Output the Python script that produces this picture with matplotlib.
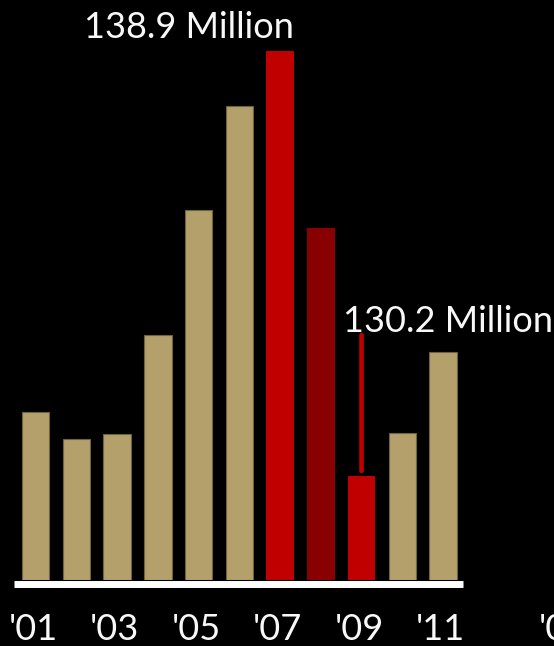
import matplotlib
matplotlib.use("Agg")
import matplotlib.pyplot as plt
from matplotlib.transforms import blended_transform_factory

# ---- data ----
years = [2001, 2002, 2003, 2004, 2005, 2006, 2007, 2008, 2009, 2010, 2011]
values = [131.50, 130.95, 131.05, 133.09, 135.65, 137.78, 138.9, 135.28, 130.2, 131.08, 132.74]
bar_colors = ["#B3A06A", "#B3A06A", "#B3A06A", "#B3A06A", "#B3A06A", "#B3A06A",
              "#C00000", "#880000", "#C00000", "#B3A06A", "#B3A06A"]
tick_years = [2001, 2003, 2005, 2007, 2009, 2011]
tick_labels = ["'01", "'03", "'05", "'07", "'09", "'11"]
extra_label = "'0"
peak_year, peak_label = 2007, "138.9 Million"
trough_year, trough_label = 2009, "130.2 Million"

FONT = "Lato"
TXT = "#F8F8F8"

fig = plt.figure(figsize=(5.54, 6.46), dpi=100, facecolor="black")
W, H = 554, 646
ax_left, ax_right, ax_bottom, ax_top = 14, 463, 580, 0
ax = fig.add_axes([ax_left / W, (H - ax_bottom) / H, (ax_right - ax_left) / W, (ax_bottom - ax_top) / H])
ax.set_facecolor("black")

ymin = 128.07
ymax = 139.94
ax.set_ylim(ymin, ymax)
ax.set_xlim(2000.472, 2011.49)

bw = 0.675
for y, v, c in zip(years, values, bar_colors):
    tan = c == "#B3A06A"
    ax.bar(y, v - ymin, bottom=ymin, width=bw, color=c,
           edgecolor="#6E6240" if tan else c, linewidth=0.8 if tan else 0)

for s in ax.spines.values():
    s.set_visible(False)
ax.set_xticks([])
ax.set_yticks([])

# baseline
ax.axhline(ymin - 0.072, color="white", linewidth=5, solid_capstyle="butt", clip_on=False)

# tick labels
tr = blended_transform_factory(ax.transData, ax.transAxes)
for ty, tl in zip(tick_years, tick_labels):
    ax.text(ty - 0.06, -0.1035, tl, transform=tr, ha="center", va="baseline",
            color=TXT, fontsize=26, family=FONT, clip_on=False)
ax.text(2013.36, -0.1035, extra_label, transform=tr, ha="left", va="baseline",
        color=TXT, fontsize=26, family=FONT, clip_on=False)

# annotations
pv = values[years.index(peak_year)]
ax.annotate(peak_label, xy=(peak_year + bw / 2, pv), xycoords="data",
            xytext=(0, 13), textcoords="offset pixels", ha="right", va="baseline",
            color=TXT, fontsize=26, family=FONT, annotation_clip=False)

tv = values[years.index(trough_year)]
ax.annotate("", xy=(trough_year, tv), xycoords="data",
            xytext=(0, 141), textcoords="offset pixels",
            arrowprops=dict(arrowstyle="-", color="#C00000", lw=3.3, shrinkA=0, shrinkB=3.6))
ax.annotate(trough_label, xy=(trough_year, tv), xycoords="data",
            xytext=(-19, 144), textcoords="offset pixels", ha="left", va="baseline",
            color=TXT, fontsize=26, family=FONT, annotation_clip=False)

fig.savefig("out.png", dpi=100, facecolor="black")
